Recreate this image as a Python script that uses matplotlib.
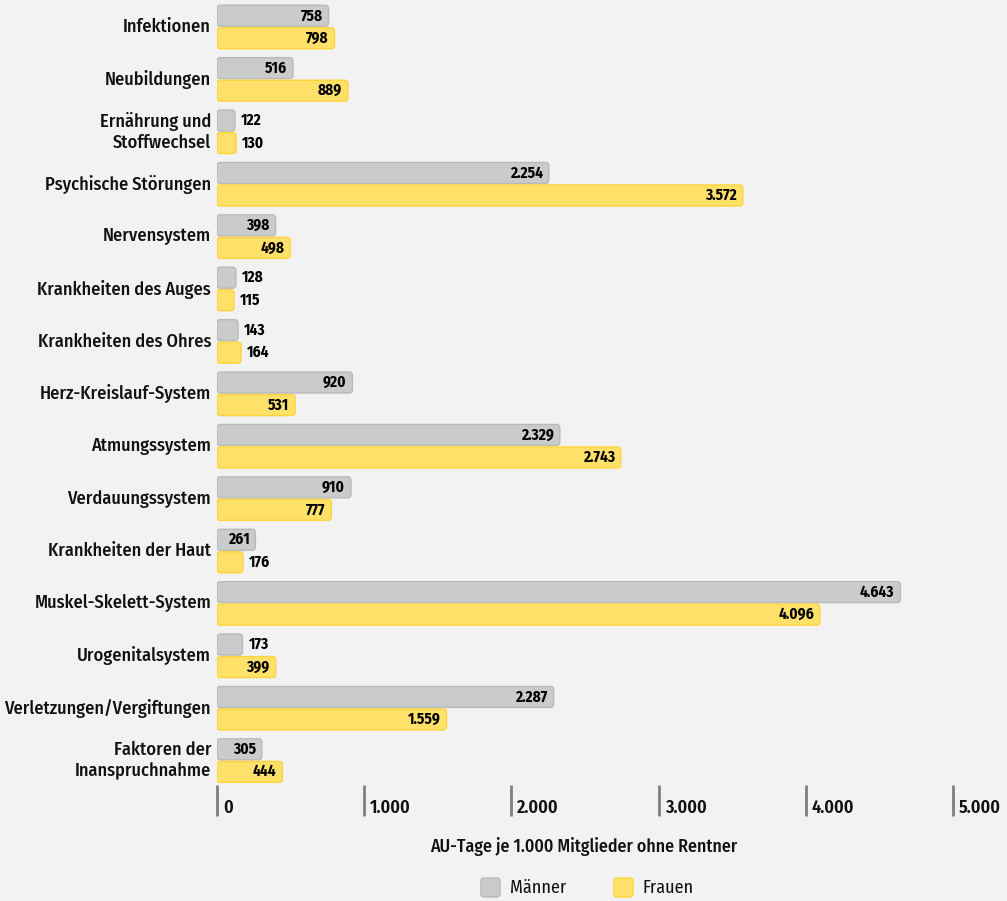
import matplotlib
matplotlib.use("Agg")
import matplotlib.pyplot as plt
from matplotlib.patches import FancyBboxPatch

plt.rcParams['font.family'] = ['Fira Sans Condensed', 'DejaVu Sans']

categories = [
    "Infektionen", "Neubildungen", "Ernährung und\nStoffwechsel",
    "Psychische Störungen", "Nervensystem", "Krankheiten des Auges",
    "Krankheiten des Ohres", "Herz-Kreislauf-System", "Atmungssystem",
    "Verdauungssystem", "Krankheiten der Haut", "Muskel-Skelett-System",
    "Urogenitalsystem", "Verletzungen/Vergiftungen", "Faktoren der\nInanspruchnahme",
]
maenner = [758, 516, 122, 2254, 398, 128, 143, 920, 2329, 910, 261, 4643, 173, 2287, 305]
frauen = [798, 889, 130, 3572, 498, 115, 164, 531, 2743, 777, 176, 4096, 399, 1559, 444]
ticks = [0, 1000, 2000, 3000, 4000, 5000]
series_names = ["Männer", "Frauen"]

BG = "#f2f2f2"
GRAY_FACE, GRAY_EDGE = "#cacbcb", "#b8b9b9"
YEL_FACE, YEL_EDGE = "#ffe16a", "#fed43a"
TICK_COLOR = "#7b8082"


def de(n):
    return f"{n:,}".replace(",", ".")


fig = plt.figure(figsize=(10.07, 9.01), dpi=100, facecolor=BG)
ax = fig.add_axes([217 / 1007, 71 / 901, 736 / 1007, 830 / 901])
ax.set_facecolor(BG)
ax.set_xlim(0, 5000)
pitch = 52.4
ax.set_ylim((830 - 27) / pitch, -27 / pitch)
for s in ax.spines.values():
    s.set_visible(False)
ax.set_xticks([])
ax.set_yticks([])

xpx = 5000 / 736          # data units per pixel (x)
ypx = 1 / pitch           # data units per pixel (y)
aspect = ypx / xpx
h = 0.40

for i, (cat, m, f) in enumerate(zip(categories, maenner, frauen)):
    for val, y0, face, edge in [(m, i - 0.415, GRAY_FACE, GRAY_EDGE),
                                (f, i + 0.015, YEL_FACE, YEL_EDGE)]:
        p = FancyBboxPatch((0, y0), val, h,
                           boxstyle=f"round,pad=0,rounding_size={3.5 * xpx}",
                           mutation_aspect=aspect, facecolor=face,
                           edgecolor=edge, linewidth=1.0)
        ax.add_patch(p)
        yc = y0 + h / 2
        if val >= 200:
            ax.text(val - 6 * xpx, yc, de(val), ha="right", va="center",
                    fontsize=11, fontweight="bold", color="black")
        else:
            ax.text(val + 6 * xpx, yc, de(val), ha="left", va="center",
                    fontsize=11, fontweight="bold", color="black")
    ax.text(-6 * xpx, i, cat, ha="right", va="center", fontsize=13.2,
            fontweight="medium", color="#111111", linespacing=1.2,
            clip_on=False)

for t in ticks:
    ax.plot([t, t], [(785 - 27) / pitch, (816 - 27) / pitch], color=TICK_COLOR,
            linewidth=2, solid_capstyle="butt", clip_on=False)
    ax.text(t + 6 * xpx, (808 - 27) / pitch, de(t), ha="left", va="center",
            fontsize=13, fontweight="semibold", color="#111111", clip_on=False)

fig.text(584 / 1007, 1 - 846 / 901, "AU-Tage je 1.000 Mitglieder ohne Rentner",
         ha="center", va="center", fontsize=12.9, fontweight="medium",
         color="#111111")

# legend
for x0, face, edge, name in [(481, GRAY_FACE, GRAY_EDGE, series_names[0]),
                             (614, YEL_FACE, YEL_EDGE, series_names[1])]:
    sq = FancyBboxPatch((x0 / 1007, 1 - 897 / 901), 19 / 1007, 19 / 901,
                        boxstyle="round,pad=0,rounding_size=0.003",
                        transform=fig.transFigure, facecolor=face,
                        edgecolor=edge, linewidth=1.0)
    fig.patches.append(sq)
    fig.text((x0 + 29) / 1007, 1 - 888 / 901, name, ha="left", va="center",
             fontsize=13, color="#111111")

fig.savefig("out.png", dpi=100, facecolor=BG)
